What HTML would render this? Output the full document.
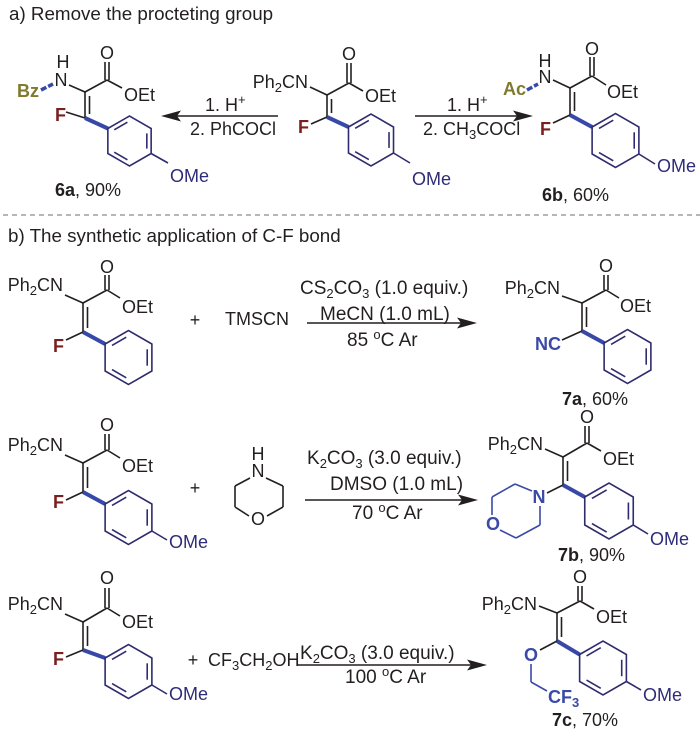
<!DOCTYPE html>
<html><head><meta charset="utf-8"><style>
html,body{margin:0;padding:0;background:#fff;}
svg{display:block;}
text{font-family:"Liberation Sans",Arial,sans-serif;font-size:18px;fill:#231f20;}
.h{font-size:18.8px;}
.c{font-size:19px;}
.b{font-weight:bold;}
.F{fill:#7a1e1e;font-weight:bold;}
.ol{fill:#7f7a2c;font-weight:bold;}
.bl{fill:#3a4aa6;font-weight:bold;}
.nv{fill:#2e2c78;}
.k{stroke:#231f20;stroke-width:1.6;fill:none;}
.r{stroke:#2e2c6e;stroke-width:1.6;fill:none;}
.t{stroke:#3848a8;stroke-width:4;fill:none;}
.pb{stroke:#3a4aa6;stroke-width:1.6;fill:none;}
.ah{fill:#231f20;stroke:none;}
</style></head><body>
<svg width="700" height="738" viewBox="0 0 700 738">

<!-- ===== Section a ===== -->
<text x="9" y="20" class="h">a) Remove the procteting group</text>

<!-- 6a -->
<text x="63" y="68" text-anchor="middle">H</text>
<text x="61" y="86" text-anchor="middle">N</text>
<text x="17" y="97" class="ol">Bz</text>
<line x1="41" y1="90" x2="53" y2="84" stroke="#3848a8" stroke-width="3.5" stroke-dasharray="6 2"/>
<line class="k" x1="69" y1="85" x2="85" y2="92"/>
<line class="k" x1="85" y1="92" x2="107" y2="80"/>
<line class="k" x1="105" y1="80" x2="105" y2="62"/>
<line class="k" x1="109" y1="80" x2="109" y2="62"/>
<text x="107" y="59" text-anchor="middle">O</text>
<line class="k" x1="107" y1="80" x2="122" y2="88"/>
<text x="124" y="101">OEt</text>
<line class="k" x1="85" y1="92" x2="85" y2="118"/>
<line class="k" x1="89.5" y1="96" x2="89.5" y2="114"/>
<text x="55" y="121" class="F">F</text>
<line class="k" x1="66" y1="112" x2="85" y2="118"/>
<line class="t" x1="85" y1="118" x2="107.85" y2="128.5"/>
<polygon class="r" points="107.85,128.5 129.5,116 151.15,128.5 151.15,153.5 129.5,166 107.85,153.5"/>
<line class="r" x1="114.25" y1="129.8" x2="127.42" y2="122.2"/>
<line class="r" x1="146.83" y1="133.4" x2="146.83" y2="148.6"/>
<line class="r" x1="127.42" y1="159.8" x2="114.25" y2="152.2"/>
<line class="r" x1="151.15" y1="153.5" x2="168" y2="163"/>
<text x="170" y="182" class="nv">OMe</text>
<text x="55" y="196"><tspan class="b">6a</tspan>, 90%</text>

<!-- left arrow -->
<line class="k" x1="177" y1="116" x2="278" y2="116"/>
<path class="ah" d="M161,116 L181,110.5 L177,116 L181,121.5 Z"/>
<text x="205" y="111">1. H<tspan font-size="13" dy="-7">+</tspan></text>
<text x="190" y="135">2. PhCOCl</text>

<!-- SM top -->
<text x="308" y="88" text-anchor="end">Ph<tspan font-size="13" dy="4">2</tspan><tspan dy="-4">CN</tspan></text>
<line class="k" x1="310" y1="87" x2="327" y2="95"/>
<line class="k" x1="327" y1="95" x2="349" y2="83"/>
<line class="k" x1="347" y1="83" x2="347" y2="63"/>
<line class="k" x1="351" y1="83" x2="351" y2="63"/>
<text x="349" y="60" text-anchor="middle">O</text>
<line class="k" x1="349" y1="83" x2="363" y2="91"/>
<text x="365" y="102">OEt</text>
<line class="k" x1="327" y1="95" x2="327" y2="117"/>
<line class="k" x1="331.5" y1="99" x2="331.5" y2="113"/>
<text x="298" y="133" class="F">F</text>
<line class="k" x1="311" y1="124" x2="327" y2="117"/>
<line class="t" x1="327" y1="117" x2="348.48" y2="127"/>
<polygon class="r" points="348.48,127 371,114 393.52,127 393.52,153 371,166 348.48,153"/>
<line class="r" x1="355.14" y1="128.35" x2="368.84" y2="120.45"/>
<line class="r" x1="389.02" y1="132.1" x2="389.02" y2="147.9"/>
<line class="r" x1="368.84" y1="159.55" x2="355.14" y2="151.65"/>
<line class="r" x1="393.52" y1="153" x2="410" y2="163"/>
<text x="412" y="185" class="nv">OMe</text>

<!-- right arrow -->
<line class="k" x1="415" y1="116" x2="517" y2="116"/>
<path class="ah" d="M533,116 L513,110.5 L517,116 L513,121.5 Z"/>
<text x="447" y="111">1. H<tspan font-size="13" dy="-7">+</tspan></text>
<text x="423" y="135">2. CH<tspan font-size="13" dy="4">3</tspan><tspan dy="-4">COCl</tspan></text>

<!-- 6b -->
<text x="545" y="67" text-anchor="middle">H</text>
<text x="545" y="83" text-anchor="middle">N</text>
<text x="503" y="95" class="ol">Ac</text>
<line x1="527" y1="90" x2="538" y2="84" stroke="#3848a8" stroke-width="3.5" stroke-dasharray="6 2"/>
<line class="k" x1="553" y1="80" x2="570" y2="88"/>
<line class="k" x1="570" y1="88" x2="592" y2="76"/>
<line class="k" x1="590" y1="76" x2="590" y2="57"/>
<line class="k" x1="594" y1="76" x2="594" y2="57"/>
<text x="592" y="55" text-anchor="middle">O</text>
<line class="k" x1="592" y1="76" x2="606" y2="85"/>
<text x="607" y="98">OEt</text>
<line class="k" x1="570" y1="88" x2="570" y2="115"/>
<line class="k" x1="574.5" y1="92" x2="574.5" y2="111"/>
<text x="540" y="135" class="F">F</text>
<line class="k" x1="553" y1="123" x2="570" y2="115"/>
<line class="t" x1="570" y1="115" x2="592.12" y2="127"/>
<polygon class="r" points="592.12,127 615.5,113.5 638.88,127 638.88,154 615.5,167.5 592.12,154"/>
<line class="r" x1="599.03" y1="128.4" x2="613.26" y2="120.2"/>
<line class="r" x1="634.21" y1="132.29" x2="634.21" y2="148.71"/>
<line class="r" x1="613.26" y1="160.8" x2="599.03" y2="152.6"/>
<line class="r" x1="638.88" y1="154" x2="655" y2="164"/>
<text x="657" y="172" class="nv">OMe</text>
<text x="542" y="201"><tspan class="b">6b</tspan>, 60%</text>

<!-- separator -->
<line x1="3" y1="215" x2="700" y2="215" stroke="#8a8a8a" stroke-width="1.3" stroke-dasharray="5 4"/>

<!-- ===== Section b ===== -->
<text x="8" y="242" class="h">b) The synthetic application of C-F bond</text>

<!-- Row 1 SM -->
<text x="63" y="291" text-anchor="end">Ph<tspan font-size="13" dy="4">2</tspan><tspan dy="-4">CN</tspan></text>
<line class="k" x1="65" y1="295" x2="83" y2="303"/>
<line class="k" x1="83" y1="303" x2="107" y2="290"/>
<line class="k" x1="105" y1="290" x2="105" y2="275"/>
<line class="k" x1="109" y1="290" x2="109" y2="275"/>
<text x="107" y="273" text-anchor="middle">O</text>
<line class="k" x1="107" y1="290" x2="120" y2="298"/>
<text x="122" y="313">OEt</text>
<line class="k" x1="83" y1="303" x2="83" y2="332"/>
<line class="k" x1="87.5" y1="307" x2="87.5" y2="328"/>
<text x="53" y="352" class="F">F</text>
<line class="k" x1="66" y1="340" x2="83" y2="332"/>
<line class="t" x1="83" y1="332" x2="105.12" y2="344"/>
<polygon class="r" points="105.12,344 128.5,330.5 151.88,344 151.88,371 128.5,384.5 105.12,371"/>
<line class="r" x1="112.03" y1="345.4" x2="126.26" y2="337.2"/>
<line class="r" x1="147.21" y1="349.29" x2="147.21" y2="365.71"/>
<line class="r" x1="126.26" y1="377.8" x2="112.03" y2="369.6"/>

<text x="195" y="326" text-anchor="middle">+</text>
<text x="225" y="325">TMSCN</text>

<line class="k" x1="307" y1="323" x2="461" y2="323"/>
<path class="ah" d="M477,323 L457,317.5 L461,323 L457,328.5 Z"/>
<text x="300" y="294" class="c">CS<tspan font-size="13" dy="4">2</tspan><tspan dy="-4">CO</tspan><tspan font-size="13" dy="4">3</tspan><tspan dy="-4"> (1.0 equiv.)</tspan></text>
<text x="320" y="320" class="c">MeCN (1.0 mL)</text>
<text x="347" y="346" class="c">85 <tspan font-size="13" dy="-7">o</tspan><tspan dy="7">C Ar</tspan></text>

<!-- 7a -->
<text x="560" y="294" text-anchor="end">Ph<tspan font-size="13" dy="4">2</tspan><tspan dy="-4">CN</tspan></text>
<line class="k" x1="562" y1="296" x2="582" y2="303"/>
<line class="k" x1="582" y1="303" x2="606" y2="290"/>
<line class="k" x1="604" y1="290" x2="604" y2="275"/>
<line class="k" x1="608" y1="290" x2="608" y2="275"/>
<text x="606" y="272" text-anchor="middle">O</text>
<line class="k" x1="606" y1="290" x2="619" y2="298"/>
<text x="620" y="312">OEt</text>
<line class="k" x1="582" y1="303" x2="582" y2="331"/>
<line class="k" x1="586.5" y1="307" x2="586.5" y2="327"/>
<text x="535" y="350" class="bl">NC</text>
<line class="k" x1="562" y1="340" x2="582" y2="331"/>
<line class="t" x1="582" y1="331" x2="604.12" y2="343"/>
<polygon class="r" points="604.12,343 627.5,329.5 650.88,343 650.88,370 627.5,383.5 604.12,370"/>
<line class="r" x1="611.03" y1="344.4" x2="625.26" y2="336.2"/>
<line class="r" x1="646.21" y1="348.29" x2="646.21" y2="364.71"/>
<line class="r" x1="625.26" y1="376.8" x2="611.03" y2="368.6"/>
<text x="562" y="405"><tspan class="b">7a</tspan>, 60%</text>

<!-- Row 2 SM -->
<text x="63" y="451" text-anchor="end">Ph<tspan font-size="13" dy="4">2</tspan><tspan dy="-4">CN</tspan></text>
<line class="k" x1="65" y1="455" x2="83" y2="463"/>
<line class="k" x1="83" y1="463" x2="107" y2="450"/>
<line class="k" x1="105" y1="450" x2="105" y2="434"/>
<line class="k" x1="109" y1="450" x2="109" y2="434"/>
<text x="107" y="431" text-anchor="middle">O</text>
<line class="k" x1="107" y1="450" x2="120" y2="458"/>
<text x="122" y="472">OEt</text>
<line class="k" x1="83" y1="463" x2="83" y2="492"/>
<line class="k" x1="87.5" y1="467" x2="87.5" y2="488"/>
<text x="53" y="508" class="F">F</text>
<line class="k" x1="66" y1="500" x2="83" y2="492"/>
<line class="t" x1="83" y1="492" x2="105.12" y2="504"/>
<polygon class="r" points="105.12,504 128.5,490.5 151.88,504 151.88,531 128.5,544.5 105.12,531"/>
<line class="r" x1="112.03" y1="505.4" x2="126.26" y2="497.2"/>
<line class="r" x1="147.21" y1="509.29" x2="147.21" y2="525.71"/>
<line class="r" x1="126.26" y1="537.8" x2="112.03" y2="529.6"/>
<line class="r" x1="151.88" y1="531" x2="167" y2="540"/>
<text x="169" y="548" class="nv">OMe</text>

<text x="195" y="494" text-anchor="middle">+</text>
<!-- morpholine -->
<text x="258" y="460" text-anchor="middle">H</text>
<text x="258" y="477" text-anchor="middle">N</text>
<text x="258" y="525" text-anchor="middle">O</text>
<line class="k" x1="266" y1="478" x2="283" y2="486"/>
<line class="k" x1="283" y1="486" x2="283" y2="507"/>
<line class="k" x1="283" y1="507" x2="267" y2="516"/>
<line class="k" x1="249" y1="516" x2="235" y2="507"/>
<line class="k" x1="235" y1="507" x2="235" y2="486"/>
<line class="k" x1="235" y1="486" x2="250" y2="478"/>

<line class="k" x1="305" y1="500" x2="462" y2="500"/>
<path class="ah" d="M478,500 L458,494.5 L462,500 L458,505.5 Z"/>
<text x="307" y="464" class="c">K<tspan font-size="13" dy="4">2</tspan><tspan dy="-4">CO</tspan><tspan font-size="13" dy="4">3</tspan><tspan dy="-4"> (3.0 equiv.)</tspan></text>
<text x="330" y="490" class="c">DMSO (1.0 mL)</text>
<text x="352" y="519" class="c">70 <tspan font-size="13" dy="-7">o</tspan><tspan dy="7">C Ar</tspan></text>

<!-- 7b -->
<text x="543" y="450" text-anchor="end">Ph<tspan font-size="13" dy="4">2</tspan><tspan dy="-4">CN</tspan></text>
<line class="k" x1="545" y1="449" x2="563" y2="457"/>
<line class="k" x1="563" y1="457" x2="587" y2="443"/>
<line class="k" x1="585" y1="443" x2="585" y2="426"/>
<line class="k" x1="589" y1="443" x2="589" y2="426"/>
<text x="587" y="423" text-anchor="middle">O</text>
<line class="k" x1="587" y1="443" x2="601" y2="451"/>
<text x="603" y="465">OEt</text>
<line class="k" x1="563" y1="457" x2="563" y2="485"/>
<line class="k" x1="567.5" y1="461" x2="567.5" y2="481"/>
<text x="539" y="503" text-anchor="middle" class="bl">N</text>
<line class="k" x1="563" y1="485" x2="547" y2="493"/>
<line class="pb" x1="532" y1="491" x2="515" y2="484"/>
<line class="pb" x1="515" y1="484" x2="492" y2="497"/>
<line class="pb" x1="492" y1="497" x2="492" y2="515"/>
<line class="pb" x1="500" y1="530" x2="516" y2="538"/>
<line class="pb" x1="516" y1="538" x2="540" y2="525"/>
<line class="pb" x1="540" y1="525" x2="540" y2="506"/>
<text x="493" y="530" text-anchor="middle" class="bl">O</text>
<line class="t" x1="563" y1="485" x2="584.75" y2="497"/>
<polygon class="r" points="584.75,497 609,483 633.25,497 633.25,525 609,539 584.75,525"/>
<line class="r" x1="591.92" y1="498.46" x2="606.68" y2="489.94"/>
<line class="r" x1="628.4" y1="502.49" x2="628.4" y2="519.51"/>
<line class="r" x1="606.68" y1="532.06" x2="591.92" y2="523.54"/>
<line class="r" x1="633.25" y1="525" x2="648" y2="534"/>
<text x="650" y="545" class="nv">OMe</text>
<text x="558" y="561"><tspan class="b">7b</tspan>, 90%</text>

<!-- Row 3 SM -->
<text x="63" y="610" text-anchor="end">Ph<tspan font-size="13" dy="4">2</tspan><tspan dy="-4">CN</tspan></text>
<line class="k" x1="65" y1="614" x2="83" y2="622"/>
<line class="k" x1="83" y1="622" x2="107" y2="608"/>
<line class="k" x1="105" y1="608" x2="105" y2="588"/>
<line class="k" x1="109" y1="608" x2="109" y2="588"/>
<text x="107" y="584" text-anchor="middle">O</text>
<line class="k" x1="107" y1="608" x2="120" y2="616"/>
<text x="122" y="628">OEt</text>
<line class="k" x1="83" y1="622" x2="83" y2="650"/>
<line class="k" x1="87.5" y1="626" x2="87.5" y2="646"/>
<text x="53" y="665" class="F">F</text>
<line class="k" x1="66" y1="657" x2="83" y2="650"/>
<line class="t" x1="83" y1="650" x2="105.12" y2="658"/>
<polygon class="r" points="105.12,658 128.5,644.5 151.88,658 151.88,685 128.5,698.5 105.12,685"/>
<line class="r" x1="112.03" y1="659.4" x2="126.26" y2="651.2"/>
<line class="r" x1="147.21" y1="663.29" x2="147.21" y2="679.71"/>
<line class="r" x1="126.26" y1="691.8" x2="112.03" y2="683.6"/>
<line class="r" x1="151.88" y1="685" x2="167" y2="694"/>
<text x="169" y="700" class="nv">OMe</text>

<text x="193" y="666" text-anchor="middle">+</text>
<text x="208" y="666">CF<tspan font-size="13" dy="4">3</tspan><tspan dy="-4">CH</tspan><tspan font-size="13" dy="4">2</tspan><tspan dy="-4">OH</tspan></text>

<line class="k" x1="298" y1="665" x2="471" y2="665"/>
<path class="ah" d="M487,665 L467,659.5 L471,665 L467,670.5 Z"/>
<text x="300" y="659" class="c">K<tspan font-size="13" dy="4">2</tspan><tspan dy="-4">CO</tspan><tspan font-size="13" dy="4">3</tspan><tspan dy="-4"> (3.0 equiv.)</tspan></text>
<text x="345" y="683" class="c">100 <tspan font-size="13" dy="-7">o</tspan><tspan dy="7">C Ar</tspan></text>

<!-- 7c -->
<text x="537" y="610" text-anchor="end">Ph<tspan font-size="13" dy="4">2</tspan><tspan dy="-4">CN</tspan></text>
<line class="k" x1="539" y1="606" x2="557" y2="613"/>
<line class="k" x1="557" y1="613" x2="580" y2="601"/>
<line class="k" x1="578" y1="601" x2="578" y2="586"/>
<line class="k" x1="582" y1="601" x2="582" y2="586"/>
<text x="580" y="583" text-anchor="middle">O</text>
<line class="k" x1="580" y1="601" x2="594" y2="609"/>
<text x="596" y="623">OEt</text>
<line class="k" x1="557" y1="613" x2="557" y2="641"/>
<line class="k" x1="561.5" y1="617" x2="561.5" y2="637"/>
<text x="531" y="661" text-anchor="middle" class="bl">O</text>
<line class="k" x1="557" y1="641" x2="540" y2="650"/>
<line class="pb" x1="531" y1="664" x2="531" y2="682"/>
<line class="pb" x1="531" y1="682" x2="547" y2="691"/>
<text x="548" y="703" class="bl">CF<tspan font-size="13" dy="4">3</tspan></text>
<line class="t" x1="557" y1="641" x2="579.62" y2="654.5"/>
<polygon class="r" points="579.62,654.5 603,641 626.38,654.5 626.38,681.5 603,695 579.62,681.5"/>
<line class="r" x1="586.53" y1="655.9" x2="600.76" y2="647.7"/>
<line class="r" x1="621.71" y1="659.79" x2="621.71" y2="676.21"/>
<line class="r" x1="600.76" y1="688.3" x2="586.53" y2="680.1"/>
<line class="r" x1="626.38" y1="681.5" x2="641" y2="690"/>
<text x="643" y="701" class="nv">OMe</text>
<text x="552" y="726"><tspan class="b">7c</tspan>, 70%</text>

</svg>
</body></html>
